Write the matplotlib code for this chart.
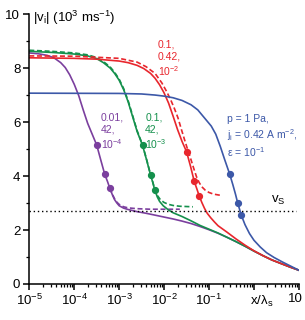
import matplotlib
matplotlib.use("Agg")
import matplotlib.pyplot as plt
from matplotlib.ticker import FixedLocator, LogLocator, NullFormatter
from matplotlib.transforms import ScaledTranslation

plt.rcParams['font.family'] = ['Liberation Sans', 'DejaVu Sans']
plt.rcParams['mathtext.default'] = 'regular'

# --- data (x = x/lambda_s, v = |v_i| in 1e3 m/s) ---
# purple: 0.01, 42, 1e-4
purple_x = [1e-5, 1.585e-5, 2.512e-5, 3.548e-5, 5.012e-5, 6.31e-5, 7.943e-5, 1e-4,
            1.259e-4, 1.585e-4, 1.778e-4, 1.995e-4, 2.512e-4, 3.162e-4, 3.89e-4, 4.786e-4,
            5.495e-4, 6.166e-4, 7.079e-4, 7.943e-4, 8.913e-4, 1e-3, 1.259e-3,
            1.585e-3, 2.512e-3, 3.981e-3, 6.31e-3, 1e-2, 1.585e-2, 2.512e-2,
            3.981e-2, 6.31e-2, 0.1, 0.1585, 0.2512, 0.3981, 0.631, 1.0, 1.585,
            2.512, 3.981, 6.31, 10.0]
purple_v = [8.56, 8.53, 8.47, 8.38, 8.2, 8.02, 7.75, 7.4,
            6.98, 6.45, 6.2, 5.95, 5.55, 5.15, 4.6, 4.06,
            3.8, 3.56, 3.3, 3.12, 3.0, 2.9, 2.81,
            2.76, 2.68, 2.62, 2.55, 2.48, 2.41, 2.33,
            2.24, 2.13, 2.01, 1.88, 1.73, 1.57, 1.40, 1.22, 1.05,
            0.89, 0.76, 0.63, 0.51]
purple_dash_x = [6.166e-4, 7.079e-4, 7.943e-4, 8.913e-4, 1e-3, 1.259e-3, 1.585e-3,
                 2.512e-3, 5.012e-3, 1e-2, 2.239e-2]
purple_dash_v = [3.56, 3.32, 3.15, 3.03, 2.95, 2.86, 2.82, 2.79, 2.77, 2.77, 2.77]
purple_dot_x = [3.162e-4, 4.786e-4, 6.166e-4]
purple_dot_v = [5.15, 4.06, 3.56]

# green: 0.1, 42, 1e-3
green_x = [1e-5, 3.162e-5, 1e-4, 1.995e-4, 3.162e-4, 4.467e-4, 6.31e-4, 7.943e-4,
           1e-3, 1.259e-3, 1.585e-3, 1.995e-3, 2.512e-3, 3.311e-3, 4.074e-3,
           5.012e-3, 5.623e-3, 6.166e-3, 7.079e-3, 7.943e-3, 9.55e-3, 1.259e-2,
           1.585e-2, 2.512e-2, 3.981e-2, 6.31e-2, 0.1, 0.1585, 0.2512, 0.3981,
           0.631, 1.0, 1.585, 2.512, 3.981, 6.31, 10.0]
green_v = [8.62, 8.58, 8.52, 8.45, 8.35, 8.2, 8.0, 7.8,
           7.55, 7.2, 6.75, 6.2, 5.65, 5.14, 4.6,
           4.03, 3.75, 3.50, 3.22, 3.06, 2.9, 2.74,
           2.64, 2.5, 2.34, 2.17, 2.03, 1.89, 1.73, 1.57,
           1.40, 1.22, 1.05, 0.89, 0.76, 0.63, 0.51]
green_dash_x = [1e-5, 3.162e-5, 1e-4, 1.995e-4, 3.162e-4, 4.467e-4, 6.31e-4, 7.943e-4,
                1e-3, 1.259e-3, 1.585e-3, 1.995e-3, 2.512e-3, 3.311e-3, 4.074e-3,
                5.012e-3, 5.623e-3, 6.166e-3, 7.079e-3, 8.318e-3, 1e-2, 1.259e-2,
                1.585e-2, 2.239e-2, 3.162e-2, 4.365e-2]
green_dash_v = [8.66, 8.62, 8.56, 8.49, 8.39, 8.24, 8.04, 7.84,
                7.59, 7.24, 6.79, 6.24, 5.68, 5.16, 4.62,
                4.05, 3.77, 3.52, 3.28, 3.12, 3.02, 2.95,
                2.91, 2.88, 2.87, 2.86]
green_dot_x = [3.311e-3, 5.012e-3, 6.166e-3]
green_dot_v = [5.14, 4.03, 3.50]

# red: 0.1, 0.42, 1e-2
red_x = [1e-5, 1e-4, 3.162e-4, 1e-3, 1.585e-3, 2.512e-3, 3.548e-3, 5.012e-3,
         6.31e-3, 7.943e-3, 1e-2, 1.259e-2, 1.585e-2, 1.995e-2, 2.512e-2,
         3.162e-2, 3.89e-2, 4.677e-2, 5.37e-2, 6.026e-2, 6.918e-2, 7.943e-2,
         9.12e-2, 0.1096, 0.1318, 0.1585, 0.2512, 0.3981, 0.631, 1.0, 1.585,
         2.512, 3.981, 6.31, 10.0]
red_v = [8.38, 8.36, 8.33, 8.26, 8.2, 8.1, 7.98, 7.8,
         7.62, 7.38, 7.08, 6.7, 6.22, 5.72, 5.28,
         4.9, 4.35, 3.81, 3.52, 3.27, 3.02, 2.8,
         2.62, 2.45, 2.3, 2.16, 1.92, 1.67, 1.44, 1.23, 1.05,
         0.89, 0.76, 0.63, 0.51]
red_dash_x = [1e-5, 1e-4, 1e-3, 2.512e-3, 3.981e-3, 6.31e-3, 8.913e-3, 1.122e-2,
              1.38e-2, 1.698e-2, 2.042e-2, 2.455e-2, 2.884e-2, 3.388e-2, 3.981e-2,
              4.571e-2, 5.248e-2, 6.026e-2, 6.918e-2, 8.318e-2, 0.1, 0.1259, 0.1738]
red_dash_v = [8.45, 8.44, 8.36, 8.22, 8.05, 7.8, 7.45, 7.15,
              6.85, 6.5, 6.15, 5.7, 5.32, 4.95, 4.6,
              4.28, 3.98, 3.76, 3.6, 3.47, 3.39, 3.33, 3.29]
red_dot_x = [3.162e-2, 4.677e-2, 6.026e-2]
red_dot_v = [4.9, 3.81, 3.27]

# blue: p = 1 Pa, j_i = 0.42 A m^-2, eps = 1e-1
blue_x = [1e-5, 1e-3, 3.162e-3, 6.31e-3, 1e-2, 1.585e-2, 2.512e-2, 3.981e-2,
          5.623e-2, 7.943e-2, 0.1122, 0.1413, 0.1778, 0.2239, 0.2884, 0.3388,
          0.389, 0.4365, 0.5248, 0.631, 0.7943, 1.0, 1.38, 1.905, 2.818, 4.365,
          6.607, 10.0]
blue_v = [7.07, 7.06, 7.04, 7.0, 6.96, 6.9, 6.8, 6.64,
          6.45, 6.15, 5.85, 5.55, 5.1, 4.6, 4.07, 3.68,
          3.32, 2.99, 2.54, 2.2, 1.87, 1.62, 1.37, 1.16, 0.98, 0.81,
          0.66, 0.51]
blue_dot_x = [0.2884, 0.4365, 0.5248]
blue_dot_v = [4.07, 2.99, 2.54]

v_s = 2.69

PURPLE = '#7b3f9e'
GREEN = '#14904c'
RED = '#e8262d'
BLUE = '#3c58a8'

fig = plt.figure(figsize=(3.05, 3.2), dpi=100)
ax = fig.add_axes([0.096, 0.1125, 0.884, 0.8435])

lw = 1.2
dash = (3.0, 1.6)
ax.plot(purple_dash_x, purple_dash_v, color=PURPLE, lw=lw, dashes=dash)
ax.plot(purple_x, purple_v, color=PURPLE, lw=lw)
ax.plot(purple_dot_x, purple_dot_v, 'o', color=PURPLE, ms=4.2)

ax.plot(green_dash_x, green_dash_v, color=GREEN, lw=lw, dashes=dash)
ax.plot(green_x, green_v, color=GREEN, lw=lw)
ax.plot(green_dot_x, green_dot_v, 'o', color=GREEN, ms=4.2)

ax.plot(red_dash_x, red_dash_v, color=RED, lw=lw, dashes=dash)
ax.plot(red_x, red_v, color=RED, lw=lw)
ax.plot(red_dot_x, red_dot_v, 'o', color=RED, ms=4.2)

ax.plot(blue_x, blue_v, color=BLUE, lw=lw)
ax.plot(blue_dot_x, blue_dot_v, 'o', color=BLUE, ms=4.2)

ax.plot([1e-5, 8.7], [v_s, v_s], color='k', lw=1.0, dashes=(1, 2))

ax.set_xscale('log')
ax.set_xlim(1e-5, 10)
ax.set_ylim(0, 10)
ax.spines['top'].set_visible(False)
ax.spines['right'].set_visible(False)
for s in ('left', 'bottom'):
    ax.spines[s].set_linewidth(1.1)

ax.set_yticks([0, 2, 4, 6, 8, 10])
ax.yaxis.set_minor_locator(FixedLocator([1, 3, 5, 7, 9]))
ax.set_xticks([1e-5, 1e-4, 1e-3, 1e-2, 1e-1, 1, 10])
ax.set_xticklabels(['$10^{-5}$', '$10^{-4}$', '$10^{-3}$', '$10^{-2}$', '$10^{-1}$', '', '10'])
ax.xaxis.set_minor_locator(LogLocator(base=10, subs=range(2, 10), numticks=100))
ax.xaxis.set_minor_formatter(NullFormatter())
ax.tick_params(which='major', length=4.5, width=1.1, labelsize=9.5, pad=2)
ax.tick_params(which='minor', length=2.5, width=0.9)

# last "10" label sits a little left of its tick
lab = ax.get_xticklabels()[-1]
lab.set_horizontalalignment('right')
lab.set_transform(lab.get_transform() + ScaledTranslation(3 / 72, 0, fig.dpi_scale_trans))

ax.text(1.45, -0.35, '$x/\\lambda_s$', fontsize=9.5, ha='center', va='top')
ax.text(1.2e-5, 9.85, '|v$_i$| (10$^3$ ms$^{-1}$)', fontsize=9.5, va='center', ha='left')

ax.text(3.9e-4, 6.35, '0.01,\n42,\n10$^{-4}$', color=PURPLE, fontsize=7.5,
        va='top', ha='left', linespacing=1.25)
ax.text(3.8e-3, 6.35, '0.1,\n42,\n10$^{-3}$', color=GREEN, fontsize=7.5,
        va='top', ha='left', linespacing=1.25)
ax.text(7.2e-3, 9.05, '0.1,\n0.42,\n10$^{-2}$', color=RED, fontsize=7.5,
        va='top', ha='left', linespacing=1.25)
ax.text(0.245, 6.3, 'p = 1 Pa,\nj$_i$ = 0.42 A m$^{-2}$,\nε = 10$^{-1}$', color=BLUE,
        fontsize=7.5, va='top', ha='left', linespacing=1.25)
ax.text(2.35, 2.85, 'v$_S$', fontsize=9.5, ha='left', va='bottom')

fig.savefig('out.png', dpi=100)
